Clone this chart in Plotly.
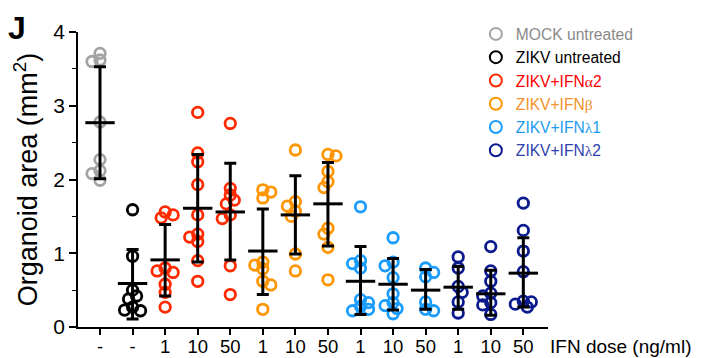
import plotly.graph_objects as go

# ---- data ----
series_names = ["MOCK untreated", "ZIKV untreated", "ZIKV+IFNα2", "ZIKV+IFNβ", "ZIKV+IFNλ1", "ZIKV+IFNλ2"]
series_colors = ["#a3a3a3", "#000000", "#ff2a00", "#ff9500", "#1a9cff", "#0b1a8f"]
legend_text_colors = ["#8a8a8a", "#000000", "#ff0000", "#f39229", "#1a9cf0", "#2f3fae"]
tick_labels = ["-", "-", "1", "10", "50", "1", "10", "50", "1", "10", "50", "1", "10", "50"]
group_series = [0, 1, 2, 2, 2, 3, 3, 3, 4, 4, 4, 5, 5, 5]

group_values = [
    [3.71, 3.62, 3.60, 2.78, 2.27, 2.12, 2.08, 1.99],
    [1.59, 0.96, 0.50, 0.42, 0.38, 0.27, 0.23, 0.22],
    [1.56, 1.52, 1.48, 0.80, 0.76, 0.74, 0.58, 0.47, 0.27],
    [2.91, 2.36, 2.24, 1.93, 1.52, 1.26, 1.22, 1.16, 0.90, 0.62],
    [2.76, 1.88, 1.79, 1.72, 1.67, 1.52, 1.47, 0.83, 0.44],
    [1.86, 1.83, 1.75, 0.88, 0.84, 0.79, 0.62, 0.57, 0.24],
    [2.40, 1.70, 1.64, 1.57, 1.50, 0.99, 0.76],
    [2.34, 2.32, 2.11, 1.97, 1.89, 1.34, 1.26, 1.08, 0.64],
    [1.63, 0.90, 0.86, 0.80, 0.37, 0.33, 0.28, 0.24, 0.22],
    [1.21, 0.88, 0.83, 0.67, 0.45, 0.33, 0.29, 0.25, 0.18],
    [0.80, 0.74, 0.68, 0.34, 0.24, 0.22],
    [0.95, 0.80, 0.55, 0.47, 0.34, 0.19],
    [1.09, 0.76, 0.62, 0.46, 0.42, 0.33, 0.30, 0.17],
    [1.68, 1.31, 1.03, 0.75, 0.35, 0.34, 0.31, 0.27],
]
group_means = [2.77, 0.59, 0.91, 1.61, 1.56, 1.03, 1.52, 1.67, 0.62, 0.58, 0.50, 0.54, 0.45, 0.73]
group_sd_hi = [0.76, 0.46, 0.48, 0.73, 0.66, 0.57, 0.53, 0.56, 0.47, 0.35, 0.28, 0.28, 0.32, 0.48]
group_sd_lo = [0.76, 0.48, 0.49, 0.73, 0.65, 0.59, 0.53, 0.57, 0.45, 0.35, 0.26, 0.30, 0.29, 0.46]

# ---- layout geometry (page body has an 8px margin) ----
W, H = 698, 350
ML, MR, MT, MB = 70, 158, 24, 31
XR = [-0.676, 13.758]
YR = [0, 4]
px_per_x = (W - ML - MR) / (XR[1] - XR[0])
px_per_y = (H - MT - MB) / (YR[1] - YR[0])
MK = 10.5  # marker diameter px


def swarm(center, vals):
    """simple deterministic beeswarm (allows partial overlap): returns x positions"""
    placed = []
    xs = [None] * len(vals)
    order = sorted(range(len(vals)), key=lambda i: -vals[i])
    step = 0.38 * MK
    for i in order:
        yp = vals[i] * px_per_y
        chosen = None
        for k in range(0, 4):
            cands = [0.0] if k == 0 else ([k * step, -k * step] if len(placed) % 2 else [-k * step, k * step])
            for c in cands:
                if all((c - px) ** 2 + (yp - py) ** 2 >= (0.62 * MK) ** 2 for px, py in placed):
                    chosen = c
                    break
            if chosen is not None:
                break
        if chosen is None:
            chosen = 0.0
        placed.append((chosen, yp))
        xs[i] = center + chosen / px_per_x
    return xs


fig = go.Figure()

for s, (name, col, tcol) in enumerate(zip(series_names, series_colors, legend_text_colors)):
    xs, ys = [], []
    for g, sv in enumerate(group_series):
        if sv != s:
            continue
        xs += swarm(g, group_values[g])
        ys += group_values[g]
    label = name
    for greek in ["α", "β", "λ"]:
        label = label.replace(greek, f"<span style='font-family:Liberation Serif'>{greek}</span>")
    fig.add_trace(go.Scatter(
        x=xs, y=ys, mode="markers", name=f"<span style='color:{tcol}'>{label}</span>",
        marker=dict(symbol="circle-open", size=MK, color=col, line=dict(width=2.8, color=col)),
        hoverinfo="skip", cliponaxis=False,
    ))

gx = list(range(len(group_means)))
fig.add_trace(go.Scatter(
    x=gx, y=group_means, mode="markers", showlegend=False,
    marker=dict(symbol="line-ew", size=21, color="black", line=dict(width=3, color="black")),
    error_y=dict(type="data", symmetric=False, array=group_sd_hi, arrayminus=group_sd_lo,
                 color="black", thickness=3, width=6),
    hoverinfo="skip", cliponaxis=False,
))

fig.update_layout(
    width=W, height=H,
    margin=dict(l=ML, r=MR, t=MT, b=MB, autoexpand=False),
    paper_bgcolor="white", plot_bgcolor="white",
    font=dict(family="Liberation Sans, Arial, sans-serif", color="black"),
    showlegend=True,
    legend=dict(x=0.8465, y=1.05, xanchor="left", yanchor="top",
                font=dict(size=15.6), bgcolor="rgba(0,0,0,0)",
                itemsizing="constant", tracegroupgap=0),
    xaxis=dict(range=XR, tickmode="array", tickvals=gx, ticktext=tick_labels,
               showgrid=False, zeroline=False, showline=True, linecolor="black", linewidth=1.5,
               ticks="outside", ticklen=6, tickwidth=1.5, tickcolor="black",
               tickfont=dict(size=18.5), automargin=False, ticklabelstandoff=-4),
    yaxis=dict(range=YR, tickmode="linear", tick0=0, dtick=1,
               showgrid=False, zeroline=False, showline=True, linecolor="black", linewidth=1.5,
               ticks="outside", ticklen=7, tickwidth=1.5, tickcolor="black",
               tickfont=dict(size=21), automargin=False,
               minor=dict(dtick=0.5, ticks="outside", ticklen=4, tickwidth=1.2, tickcolor="black"),
               title=dict(text="Organoid area (mm<sup>2</sup>)", font=dict(size=27), standoff=8)),
    annotations=[
        dict(text="IFN dose (ng/ml)", xref="paper", yref="paper", x=1.0, y=0, xanchor="left",
             yanchor="top", yshift=-7, xshift=0, showarrow=False, font=dict(size=19)),
        dict(text="<b>J</b>", xref="paper", yref="paper", x=-0.1535, y=1.08, xanchor="left",
             yanchor="top", showarrow=False, font=dict(size=32)),
    ],
)

fig.write_html("out.html")
